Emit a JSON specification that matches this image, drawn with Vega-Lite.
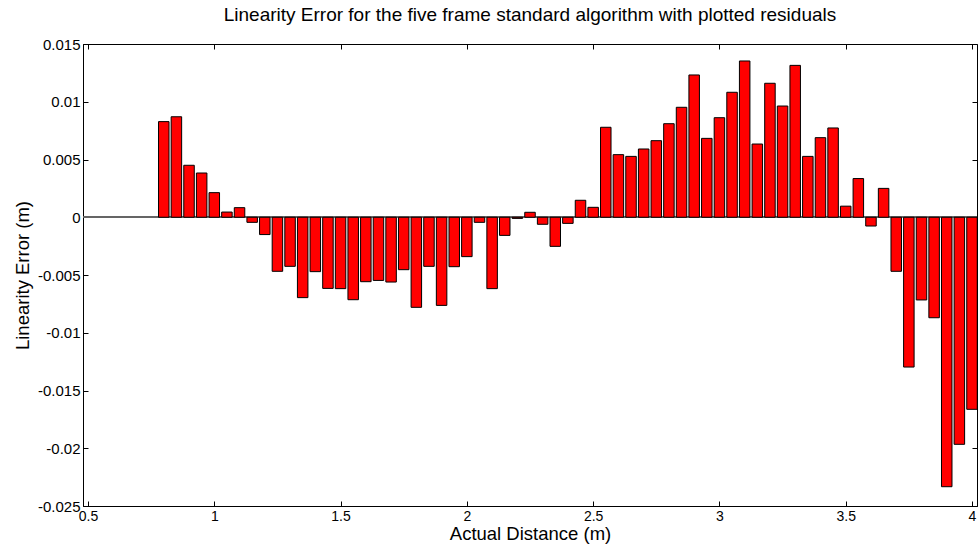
{
  "$schema": "https://vega.github.io/schema/vega-lite/v6.json",
  "autosize": {"type": "none"},
  "width": 894,
  "height": 462,
  "padding": {"left": 83, "top": 44, "right": 1, "bottom": 39},
  "background": "white",
  "title": {"text": "Linearity Error for the five frame standard algorithm with plotted residuals", "font": "Liberation Sans", "fontSize": 19, "fontWeight": "normal", "color": "black", "offset": 12, "anchor": "middle"},
  "config": {"view": {"stroke": "black", "strokeWidth": 1}},
  "data": {"values": [
    {"d": 0.80, "e": 0.00828}, {"d": 0.85, "e": 0.0087}, {"d": 0.90, "e": 0.0045}, {"d": 0.95, "e": 0.00383},
    {"d": 1.00, "e": 0.00213}, {"d": 1.05, "e": 0.00045}, {"d": 1.10, "e": 0.00083}, {"d": 1.15, "e": -0.00044},
    {"d": 1.20, "e": -0.0015}, {"d": 1.25, "e": -0.00468}, {"d": 1.30, "e": -0.00425}, {"d": 1.35, "e": -0.00696},
    {"d": 1.40, "e": -0.00471}, {"d": 1.45, "e": -0.00616}, {"d": 1.50, "e": -0.00618}, {"d": 1.55, "e": -0.00714},
    {"d": 1.60, "e": -0.00558}, {"d": 1.65, "e": -0.00547}, {"d": 1.70, "e": -0.00561}, {"d": 1.75, "e": -0.00454},
    {"d": 1.80, "e": -0.0078}, {"d": 1.85, "e": -0.00425}, {"d": 1.90, "e": -0.00763}, {"d": 1.95, "e": -0.00428},
    {"d": 2.00, "e": -0.00341}, {"d": 2.05, "e": -0.00044}, {"d": 2.10, "e": -0.00618}, {"d": 2.15, "e": -0.00157},
    {"d": 2.20, "e": -0.0001}, {"d": 2.25, "e": 0.00043}, {"d": 2.30, "e": -0.00061}, {"d": 2.35, "e": -0.00252},
    {"d": 2.40, "e": -0.00053}, {"d": 2.45, "e": 0.00147}, {"d": 2.50, "e": 0.00086}, {"d": 2.55, "e": 0.00779},
    {"d": 2.60, "e": 0.00542}, {"d": 2.65, "e": 0.00527}, {"d": 2.70, "e": 0.00591}, {"d": 2.75, "e": 0.00663},
    {"d": 2.80, "e": 0.0081}, {"d": 2.85, "e": 0.00952}, {"d": 2.90, "e": 0.01232}, {"d": 2.95, "e": 0.00683},
    {"d": 3.00, "e": 0.00862}, {"d": 3.05, "e": 0.01082}, {"d": 3.10, "e": 0.01353}, {"d": 3.15, "e": 0.00634},
    {"d": 3.20, "e": 0.0116}, {"d": 3.25, "e": 0.00963}, {"d": 3.30, "e": 0.01315}, {"d": 3.35, "e": 0.00527},
    {"d": 3.40, "e": 0.00689}, {"d": 3.45, "e": 0.00773}, {"d": 3.50, "e": 0.00096}, {"d": 3.55, "e": 0.00335},
    {"d": 3.60, "e": -0.00076}, {"d": 3.65, "e": 0.0025}, {"d": 3.70, "e": -0.00468}, {"d": 3.75, "e": -0.01297},
    {"d": 3.80, "e": -0.00716}, {"d": 3.85, "e": -0.0087}, {"d": 3.90, "e": -0.02333}, {"d": 3.95, "e": -0.01966},
    {"d": 4.00, "e": -0.01663}
  ]},
  "layer": [
    {
      "mark": {"type": "rule", "color": "#666666", "strokeWidth": 1},
      "encoding": {
        "y": {"datum": 0, "type": "quantitative", "scale": {"domain": [-0.025, 0.015], "nice": false, "zero": false},
          "axis": {"orient": "right", "labels": false, "title": null, "grid": false, "domain": false, "tickSize": -5, "tickColor": "black", "values": [-0.025, -0.02, -0.015, -0.01, -0.005, 0, 0.005, 0.01, 0.015]}}
      }
    },
    {
      "mark": {"type": "rule", "opacity": 0},
      "encoding": {
        "x": {"datum": 0.5, "type": "quantitative", "scale": {"domain": [0.5, 4], "nice": false, "zero": false},
          "axis": {"orient": "top", "labels": false, "title": null, "grid": false, "domain": false, "tickSize": -5, "tickColor": "black", "values": [0.5, 1, 1.5, 2, 2.5, 3, 3.5, 4]}}
      }
    },
    {
      "mark": {"type": "bar", "fill": "#ff0000", "stroke": "black", "strokeWidth": 1, "width": 10.5, "clip": true},
      "encoding": {
        "x": {"field": "d", "type": "quantitative", "scale": {"domain": [0.5, 4], "nice": false, "zero": false},
          "axis": {"orient": "bottom", "title": "Actual Distance (m)", "grid": false, "domainColor": "black", "tickColor": "black", "tickSize": -5, "labelPadding": 8, "values": [0.5, 1, 1.5, 2, 2.5, 3, 3.5, 4], "labelExpr": "'' + datum.value", "labelFont": "Liberation Sans", "labelFontSize": 14, "labelColor": "black", "titleFont": "Liberation Sans", "titleFontSize": 18.5, "titleFontWeight": "normal", "titleColor": "black", "titlePadding": 1, "labelFlush": false}},
        "y": {"field": "e", "type": "quantitative", "scale": {"domain": [-0.025, 0.015], "nice": false, "zero": false},
          "axis": {"orient": "left", "title": "Linearity Error (m)", "grid": false, "domainColor": "black", "tickColor": "black", "tickSize": -5, "labelPadding": 8, "values": [-0.025, -0.02, -0.015, -0.01, -0.005, 0, 0.005, 0.01, 0.015], "labelExpr": "'' + datum.value", "labelFont": "Liberation Sans", "labelFontSize": 15, "labelColor": "black", "titleFont": "Liberation Sans", "titleFontSize": 18.5, "titleFontWeight": "normal", "titleColor": "black", "titlePadding": 5, "labelFlush": false}},
        "y2": {"datum": 0}
      }
    }
  ],
  "resolve": {"axis": {"x": "independent", "y": "independent"}}
}
